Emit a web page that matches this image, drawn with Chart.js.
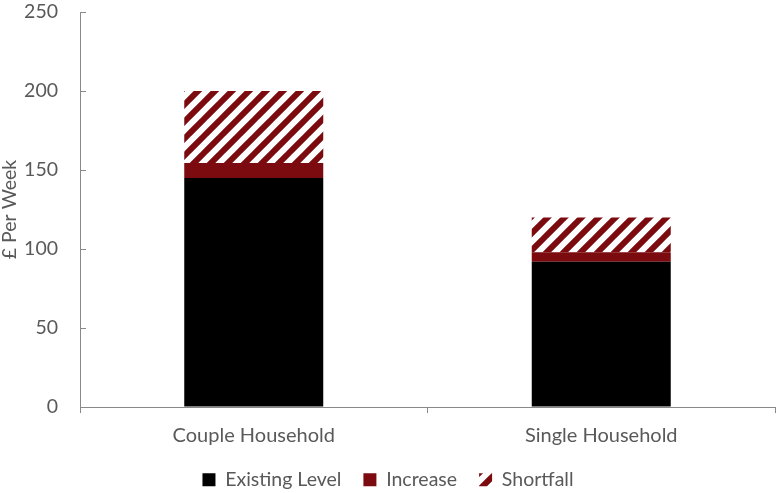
<!DOCTYPE html>
<html>
<head>
<meta charset="utf-8">
<script src="https://cdn.jsdelivr.net/npm/chart.js@4.4.1/dist/chart.umd.min.js"></script>
<style>
  html, body { margin: 0; padding: 0; background: #fff; }
  #wrap { width: 776px; height: 493px; }
</style>
</head>
<body>
<div id="wrap"><canvas id="chart"></canvas></div>
<script>
const categories = ['Couple Household', 'Single Household'];
const existingLevel = [145, 92];
const increase = [9.5, 6];
const shortfall = [45.5, 22];

const darkRed = '#7b0b0e';
const axisColor = '#898989';
const textColor = '#595959';

// diagonal stripe fill for the shortfall part
function makeStripes() {
  const size = 17;
  const c = document.createElement('canvas');
  c.width = size;
  c.height = size;
  const g = c.getContext('2d');
  g.fillStyle = '#fff';
  g.fillRect(0, 0, size, size);
  g.strokeStyle = darkRed;
  g.lineWidth = 6;
  g.beginPath();
  for (let k = -1; k <= 1; k++) {
    g.moveTo(k * size - 2, size + 2);
    g.lineTo(k * size + size + 2, -2);
  }
  g.stroke();
  return g.createPattern(c, 'repeat');
}
const stripes = makeStripes();

// small inward tick marks on the y axis
const yTicksInside = {
  id: 'yTicksInside',
  afterDraw(chart) {
    const y = chart.scales.y;
    const ctx = chart.ctx;
    ctx.save();
    ctx.strokeStyle = axisColor;
    ctx.lineWidth = 1;
    y.ticks.forEach(t => {
      const py = Math.round(y.getPixelForValue(t.value)) + 0.5;
      ctx.beginPath();
      ctx.moveTo(y.right, py);
      ctx.lineTo(y.right + 6, py);
      ctx.stroke();
    });
    ctx.restore();
  }
};

// keep the legend strip a fixed height so the wider item padding doesn't squash the plot
const legendHeight = {
  id: 'legendHeight',
  beforeLayout(chart) {
    const lg = chart.legend;
    if (lg && !lg._fixedFit) {
      const fit = lg.fit.bind(lg);
      lg.fit = function () {
        fit();
        this.height = 45;
      };
      lg._fixedFit = true;
    }
  }
};

Chart.defaults.font.family = 'Lato, "Noto Sans", sans-serif';
Chart.defaults.color = textColor;

new Chart(document.getElementById('chart'), {
  type: 'bar',
  data: {
    labels: categories,
    datasets: [{
      label: 'Existing Level',
      data: existingLevel,
      backgroundColor: '#000000'
    }, {
      label: 'Increase',
      data: increase,
      backgroundColor: darkRed
    }, {
      label: 'Shortfall',
      data: shortfall,
      backgroundColor: stripes
    }]
  },
  options: {
    responsive: true,
    maintainAspectRatio: false,
    animation: false,
    layout: { padding: 0 },
    datasets: {
      bar: { categoryPercentage: 0.8, barPercentage: 0.5 }
    },
    plugins: {
      tooltip: { enabled: false },
      legend: {
        position: 'bottom',
        labels: {
          boxWidth: 13,
          boxHeight: 13,
          padding: 22,
          font: { size: 19.5 },
          color: textColor
        }
      }
    },
    scales: {
      x: {
        stacked: true,
        border: { color: axisColor },
        grid: {
          drawOnChartArea: false,
          offset: true,
          tickLength: 6,
          color: axisColor
        },
        ticks: { font: { size: 20, lineHeight: 1.2 }, color: textColor, padding: 11 },
        afterFit(scale) {
          scale.height = 41;
          scale.paddingLeft = 0;
          scale.paddingRight = 1;
        }
      },
      y: {
        stacked: true,
        min: 0,
        max: 250,
        border: { color: axisColor },
        grid: { drawOnChartArea: false, drawTicks: false },
        ticks: { stepSize: 50, font: { size: 19.5 }, color: textColor, padding: 22 },
        title: {
          display: true,
          text: '£ Per Week',
          font: { size: 19.5, lineHeight: 1 },
          color: textColor,
          padding: 0
        },
        afterFit(scale) {
          scale.width = 80;
          scale.paddingTop = 12;
          scale.paddingBottom = 0;
        }
      }
    }
  },
  plugins: [yTicksInside, legendHeight]
});
</script>
</body>
</html>
